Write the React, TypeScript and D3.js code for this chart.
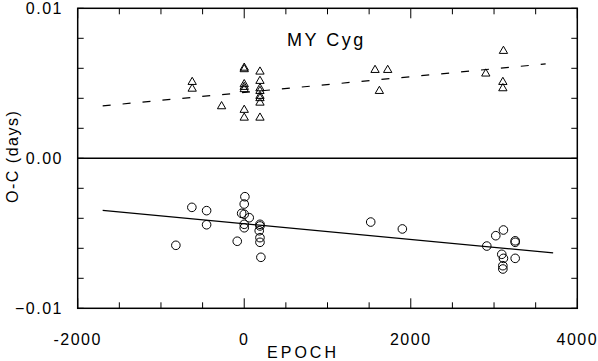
import React from 'react';
import * as d3 from 'd3';

// O-C residuals of MY Cyg
const triEpoch = [-625, -625, -272, 0, 0, 0, 0, 0, 0, 0, 189, 189, 189, 189, 189, 189, 189, 189, 1571, 1723, 1623, 2901, 3113, 3106, 3106];
const triOC = [0.00515, 0.0047, 0.00353, 0.0061, 0.006, 0.005, 0.00482, 0.00467, 0.00329, 0.00277, 0.00584, 0.00522, 0.00473, 0.00455, 0.00422, 0.00407, 0.00377, 0.00277, 0.00595, 0.00595, 0.00455, 0.00571, 0.00722, 0.00515, 0.00473];

const circEpoch = [-821, -629, -452, -452, -84, 8, 0, -31, 0, 60, 0, 0, 189, 189, 180, 189, 189, 200, 1519, 1899, 2913, 3021, 3113, 3093, 3113, 3106, 3106, 3254, 3254, 3254];
const circOC = [-0.0058, -0.00327, -0.00349, -0.00443, -0.00553, -0.00256, -0.00305, -0.00367, -0.00373, -0.00396, -0.0044, -0.00463, -0.0044, -0.00451, -0.00483, -0.00529, -0.0056, -0.0066, -0.00425, -0.00471, -0.00585, -0.00516, -0.00478, -0.0064, -0.00667, -0.00716, -0.00738, -0.0055, -0.0056, -0.00667];

// linear fits: epoch range, [intercept, slope]
const fitRange = [-1700, 3620];
const triFit = [0.00439, 5.26e-7];
const circFitRange = [-1700, 3710];
const circFit = [-0.00436, -5.24e-7];

const xTicks = [-2000, 0, 2000, 4000];
const yTicks = [0.01, 0, -0.01];

const W = 598, H = 361;
const L = 77.7, R = 577.3, T = 8.3, B = 308.3;
const font = '"Liberation Sans", Arial, sans-serif';

export default function App() {
  const x = d3.scaleLinear().domain([-2000, 4000]).range([L, R]);
  const y = d3.scaleLinear().domain([-0.01, 0.01]).range([B, T]);

  const minorX = d3.range(-2000, 4001, 500);
  const minorY = d3.range(-0.01, 0.01001, 0.002);

  const tri = d3.symbol().type(d3.symbolTriangle).size(30)();
  const fitLine = (range: number[], f: number[]) =>
    d3.line<number>().x(e => x(e)).y(e => y(f[0] + f[1] * e))(range);

  const tk = { stroke: '#000', strokeWidth: 1 };

  return (
    <svg width={W} height={H} style={{ position: 'absolute', left: 0, top: 0, background: '#fff' }}>
      <rect x={L} y={T} width={R - L} height={B - T} fill="none" stroke="#000" strokeWidth={1.5} />
      <line x1={L} x2={R} y1={y(0)} y2={y(0)} stroke="#000" strokeWidth={1.5} />

      {minorX.map(v => {
        const len = v % 2000 === 0 ? 10 : 6;
        return (
          <g key={'x' + v}>
            <line x1={x(v)} x2={x(v)} y1={B} y2={B - len} {...tk} />
            <line x1={x(v)} x2={x(v)} y1={T} y2={T + len} {...tk} />
          </g>
        );
      })}
      {minorY.map((v, i) => (
        <g key={'y' + i}>
          <line x1={L} x2={L + 6} y1={y(v)} y2={y(v)} {...tk} />
          <line x1={R} x2={R - 6} y1={y(v)} y2={y(v)} {...tk} />
        </g>
      ))}

      {xTicks.map(v => (
        <text key={'xl' + v} x={x(v)} y={345} textAnchor="middle" fontFamily={font} fontSize={16} letterSpacing={1.5} fill="#000">
          {v}
        </text>
      ))}
      {yTicks.map(v => (
        <text key={'yl' + v} x={63} y={y(v) + 6} textAnchor="end" fontFamily={font} fontSize={16} letterSpacing={1.5} fill="#000">
          {d3.format('.2f')(v)}
        </text>
      ))}

      <text x={303} y={357.5} textAnchor="middle" fontFamily={font} fontSize={16} letterSpacing={3} fill="#000">EPOCH</text>
      <text transform={`translate(18,${y(0) - 2}) rotate(-90)`} textAnchor="middle" fontFamily={font} fontSize={16} letterSpacing={1.5} fill="#000">
        O-C (days)
      </text>
      <text x={287} y={46} fontFamily={font} fontSize={18} letterSpacing={2.5} fill="#000">MY Cyg</text>

      <path d={fitLine(fitRange, triFit) || ''} fill="none" stroke="#000" strokeWidth={1.2} strokeDasharray="8,12" />
      <path d={fitLine(circFitRange, circFit) || ''} fill="none" stroke="#000" strokeWidth={1.2} />

      {triEpoch.map((e, i) => (
        <path key={'t' + i} d={tri || ''} transform={`translate(${x(e)},${y(triOC[i]) + 1})`} fill="none" stroke="#000" strokeWidth={1} />
      ))}
      {circEpoch.map((e, i) => (
        <circle key={'c' + i} cx={x(e)} cy={y(circOC[i])} r={4.3} fill="none" stroke="#000" strokeWidth={1} />
      ))}
    </svg>
  );
}
